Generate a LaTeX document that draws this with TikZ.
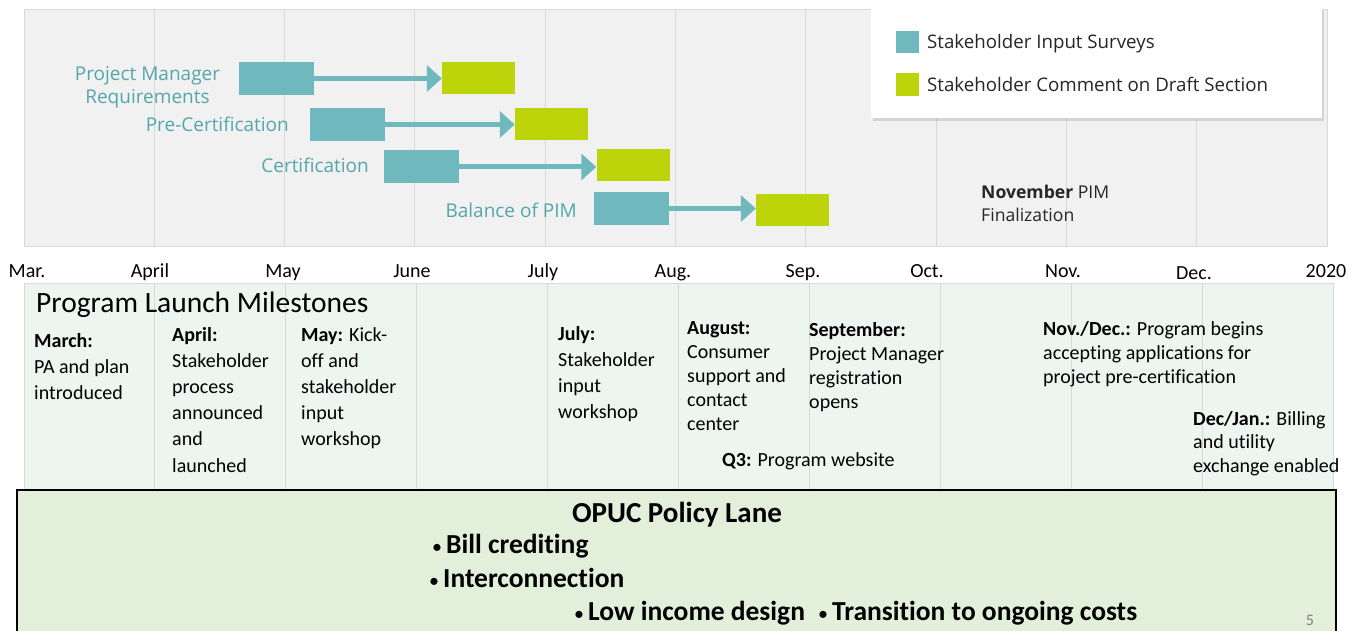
\documentclass[tikz,border=0pt]{standalone}
\usepackage{fontspec}
\setmainfont{Carlito}[Ligatures=NoCommon]
\newfontfamily\chartfont{Open Sans}
\usepackage{tikz}
\usetikzlibrary{arrows.meta,positioning,shadows}
\definecolor{surveyteal}{RGB}{111,185,190}
\definecolor{commentlime}{RGB}{189,212,10}
\definecolor{labelteal}{RGB}{84,166,172}
\definecolor{chartgray}{RGB}{241,241,241}
\definecolor{gridgray}{RGB}{217,217,217}
\definecolor{laneback}{RGB}{237,245,241}
\definecolor{policygreen}{RGB}{226,239,218}
\definecolor{darktext}{RGB}{38,38,38}
\newcommand{\policydot}{{\mdseries\fontsize{20}{20}\selectfont\textbullet}\hspace{4pt}}

\begin{document}
\begin{tikzpicture}[
    x=1pt, y=-1pt,
    surveybar/.style={rectangle, minimum width=75pt, minimum height=33pt, fill=surveyteal, inner sep=0pt},
    commentbar/.style={rectangle, minimum width=73pt, minimum height=32pt, fill=commentlime, inner sep=0pt},
    phase/.style={font=\chartfont\fontsize{19}{23}\selectfont, text=labelteal, inner sep=0pt},
    flow/.style={-{Triangle[length=15pt, width=26pt]}, line width=5pt, surveyteal},
    legendtext/.style={font=\chartfont\fontsize{18.7}{23}\selectfont, text=darktext, anchor=base west, inner sep=0pt},
    month/.style={font=\fontsize{20}{24}\selectfont, anchor=base, inner sep=0pt},
    milestone/.style={font=\fontsize{20}{#1}\selectfont, align=left, anchor=base west, inner sep=0pt},
    milestone/.default=24,
    gridline/.style={draw=gridgray, line width=1pt},
    policyitem/.style={font=\bfseries\fontsize{27.5}{32}\selectfont, anchor=base west, inner sep=0pt}
]
\useasboundingbox (0,0) rectangle (1364,631);
\fill[white] (0,0) rectangle (1364,631);

% Chart panel
\draw[fill=chartgray, draw=gridgray, line width=1pt] (24,10) rectangle (1327,246);
\draw[gridline] (154.3,10) -- (154.3,246) (284.6,10) -- (284.6,246) (414.9,10) -- (414.9,246)
    (545.2,10) -- (545.2,246) (675.5,10) -- (675.5,246) (805.8,10) -- (805.8,246)
    (936.1,10) -- (936.1,246) (1066.4,10) -- (1066.4,246) (1196.7,10) -- (1196.7,246);

% Survey and comment bars
\node[surveybar] (pm-survey) at (276,78.5) {};
\node[commentbar] (pm-comment) at (478.5,78.5) {};
\node[surveybar] (pre-survey) at (347.5,124.5) {};
\node[commentbar] (pre-comment) at (551.5,124.5) {};
\node[surveybar] (cert-survey) at (421,167) {};
\node[commentbar] (cert-comment) at (633,165) {};
\node[surveybar] (bal-survey) at (631.5,208.5) {};
\node[commentbar] (bal-comment) at (792.5,210) {};

% Survey to comment arrows
\draw[flow] (pm-survey.east) -- (pm-survey.east -| pm-comment.west);
\draw[flow] (pre-survey.east) -- (pre-survey.east -| pre-comment.west);
\draw[flow] (cert-survey.east) -- (cert-survey.east -| cert-comment.west);
\draw[flow] (bal-survey.east) -- (bal-survey.east -| bal-comment.west);

% Bar labels (multi-line nodes sit on their last baseline)
\node[phase, align=center, anchor=base] (pm-label) at (147.5,104) {Project Manager\\Requirements};
\node[phase, anchor=base east] (pre-label) at (289,132) {Pre-Certification};
\node[phase, anchor=base east] (cert-label) at (369,172) {Certification};
\node[phase, anchor=base east] (bal-label) at (577,217) {Balance of PIM};

% Legend
\node[rectangle, fill=white, minimum width=451pt, minimum height=111pt,
    drop shadow={opacity=0.25, shadow xshift=2pt, shadow yshift=-3pt}] (legend) at (1096.5,62.5) {};
\node[rectangle, fill=surveyteal, minimum width=23pt, minimum height=22pt, inner sep=0pt] (key-survey) at (907.5,42.5) {};
\node[rectangle, fill=commentlime, minimum width=23pt, minimum height=23pt, inner sep=0pt] (key-comment) at (907.5,85) {};
\node[legendtext] (key-survey-text) at (927,49) {Stakeholder Input Surveys};
\node[legendtext] (key-comment-text) at (927,92) {Stakeholder Comment on Draft Section};

\node[font=\chartfont\fontsize{17.6}{23}\selectfont, text=darktext, align=left, anchor=base west, inner sep=0pt]
    (nov-final) at (981,221) {\textbf{November} PIM\\Finalization};

% Month axis
\node[month] (m-mar) at (27,277) {Mar.};
\node[month] (m-apr) at (150,277) {April};
\node[month] (m-may) at (283,277) {May};
\node[month] (m-jun) at (412,277) {June};
\node[month] (m-jul) at (543,277) {July};
\node[month] (m-aug) at (673,277) {Aug.};
\node[month] (m-sep) at (803,277) {Sep.};
\node[month] (m-oct) at (927,277) {Oct.};
\node[month] (m-nov) at (1063,277) {Nov.};
\node[month] (m-dec) at (1194,279) {Dec.};
\node[month] (m-2020) at (1326,277) {2020};

% Program launch milestones
\draw[fill=laneback, draw=gridgray, line width=1pt] (24,283) rectangle (1333,490);
\draw[gridline] (154.9,283) -- (154.9,490) (285.8,283) -- (285.8,490) (416.7,283) -- (416.7,490)
    (547.6,283) -- (547.6,490) (678.5,283) -- (678.5,490) (809.4,283) -- (809.4,490)
    (940.3,283) -- (940.3,490) (1071.2,283) -- (1071.2,490) (1202.1,283) -- (1202.1,490);

\node[font=\fontsize{29.5}{32}\selectfont, anchor=base west, inner sep=0pt] (launch-title) at (36,312) {Program Launch Milestones};

\node[milestone=26] (ms-mar) at (34,399) {\textbf{March:}\\PA and plan\\introduced};
\node[milestone=26.2] (ms-apr) at (172,472) {\textbf{April:}\\Stakeholder\\process\\announced\\and\\launched};
\node[milestone=26] (ms-may) at (301,445) {\textbf{May:} Kick-\\off and\\stakeholder\\input\\workshop};
\node[milestone=26] (ms-jul) at (558,418) {\textbf{July:}\\Stakeholder\\input\\workshop};
\node[milestone=23.8] (ms-aug) at (687,430) {\textbf{August:}\\Consumer\\support and\\contact\\center};
\node[milestone=23.8] (ms-sep) at (809,408) {\textbf{September:}\\Project Manager\\registration\\opens};
\node[milestone] (ms-q3) at (722,466) {\textbf{Q3:} Program website};
\node[milestone] (ms-novdec) at (1043,383) {\textbf{Nov./Dec.:} Program begins\\accepting applications for\\project pre-certification};
\node[milestone=23.5] (ms-decjan) at (1193,472) {\textbf{Dec/Jan.:} Billing\\and utility\\exchange enabled};

% OPUC policy lane
\node[rectangle, draw=black, line width=1.2pt, fill=policygreen, minimum width=1319pt, minimum height=180pt, inner sep=0pt] (policy) at (676.5,580) {};
\node[font=\bfseries\fontsize{29}{32}\selectfont, anchor=base, inner sep=0pt] (policy-title) at (677,522) {OPUC Policy Lane};
\node[policyitem] (pol-bill) at (432,553) {\policydot Bill crediting};
\node[policyitem] (pol-inter) at (429,587) {\policydot Interconnection};
\node[policyitem] (pol-low) at (574,620) {\policydot Low income design};
\node[policyitem] (pol-trans) at (818,620) {\policydot Transition to ongoing costs};
\node[font=\fontsize{16}{18}\selectfont, text=gray, anchor=base, inner sep=0pt] (page-no) at (1310,625) {5};

\end{tikzpicture}
\end{document}
